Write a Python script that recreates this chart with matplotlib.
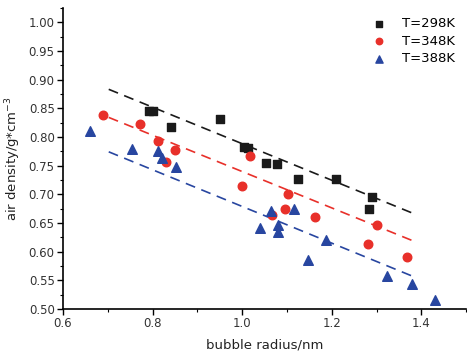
import matplotlib
matplotlib.use("Agg")
import matplotlib.pyplot as plt
from matplotlib.ticker import MultipleLocator

# ---- data ----
x_298 = [0.793, 0.800, 0.840, 0.951, 1.004, 1.013, 1.053, 1.078, 1.124, 1.209, 1.291, 1.284]
y_298 = [0.846, 0.846, 0.818, 0.832, 0.783, 0.780, 0.754, 0.752, 0.727, 0.727, 0.696, 0.675]

x_348 = [0.689, 0.771, 0.811, 0.829, 0.851, 1.000, 1.018, 1.067, 1.096, 1.102, 1.162, 1.302, 1.282, 1.369]
y_348 = [0.839, 0.823, 0.792, 0.757, 0.778, 0.714, 0.766, 0.663, 0.674, 0.700, 0.661, 0.647, 0.613, 0.590]

x_388 = [0.660, 0.753, 0.811, 0.822, 0.853, 1.040, 1.064, 1.080, 1.080, 1.116, 1.146, 1.187, 1.324, 1.380, 1.431]
y_388 = [0.810, 0.779, 0.775, 0.764, 0.747, 0.642, 0.670, 0.647, 0.634, 0.675, 0.586, 0.620, 0.557, 0.543, 0.515]

fit_x = [0.702, 1.387]
fit_298 = [0.883, 0.665]
fit_348 = [0.834, 0.617]
fit_388 = [0.774, 0.555]

labels = ["T=298K", "T=348K", "T=388K"]
colors = ["#1a1a1a", "#e8302a", "#2846a0"]

fig = plt.figure(figsize=(4.67, 3.58), dpi=100)
ax = fig.add_axes([0.135, 0.137, 0.863, 0.841])

ax.scatter(x_298, y_298, marker="s", s=30, color=colors[0], label=labels[0], zorder=3)
ax.scatter(x_348, y_348, marker="o", s=38, color=colors[1], label=labels[1], zorder=3)
ax.scatter(x_388, y_388, marker="^", s=48, color=colors[2], label=labels[2], zorder=3)

for fy, c in zip([fit_298, fit_348, fit_388], colors):
    ax.plot(fit_x, fy, linestyle=(0, (6, 4)), color=c, linewidth=1.2, zorder=2)

ax.set_xlim(0.6, 1.5)
ax.set_ylim(0.5, 1.025)
ax.xaxis.set_major_locator(MultipleLocator(0.2))
ax.xaxis.set_minor_locator(MultipleLocator(0.1))
ax.yaxis.set_major_locator(MultipleLocator(0.05))
ax.yaxis.set_minor_locator(MultipleLocator(0.025))
ax.xaxis.set_major_formatter(matplotlib.ticker.FormatStrFormatter("%.1f"))
ax.yaxis.set_major_formatter(matplotlib.ticker.FormatStrFormatter("%.2f"))

for s in ["top", "right"]:
    ax.spines[s].set_visible(False)
for s in ["left", "bottom"]:
    ax.spines[s].set_linewidth(1.2)

ax.tick_params(which="major", direction="out", length=4, width=1, labelsize=8.5,
               labelcolor="#333333", pad=2)
ax.tick_params(which="minor", direction="out", length=2.5, width=0.8)

ax.set_xlabel("bubble radius/nm", fontsize=9.5, color="#222222", labelpad=6)
ax.set_ylabel("air density/g*cm$^{-3}$", fontsize=9.5, color="#222222", labelpad=4)

ax.legend(loc="upper right", frameon=False, fontsize=9.5, handletextpad=0.7,
          labelspacing=0.35, borderaxespad=0.3, markerscale=0.75,
          bbox_to_anchor=(0.995, 1.0))

fig.savefig("out.png", dpi=100)
